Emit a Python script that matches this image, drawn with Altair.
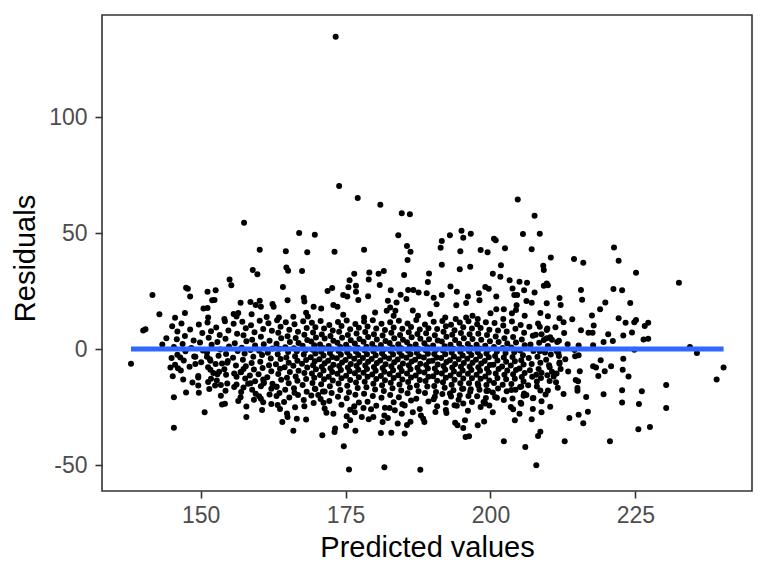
import altair as alt
import pandas as pd

# ---- values (x = predicted value, y = residual) ----
outlier_points = [[173.3, 134.6]]

upper_left_points = [
    [157.5, 54.4], [167.0, 50.0], [169.7, 49.3], [160.2, 42.8], [164.7, 42.2], [168.4, 41.7],
    [159.0, 34.1], [159.8, 32.2], [164.8, 35.2], [165.1, 33.8], [167.5, 33.6], [155.0, 30.0],
    [155.3, 27.5], [147.5, 26.4], [147.8, 26.0], [141.7, 23.3], [148.2, 22.7], [151.2, 24.7],
    [152.6, 25.3], [152.0, 21.0], [152.4, 21.1], [164.2, 26.7], [165.0, 21.0], [171.9, 25.0],
    [167.8, 22.1], [167.9, 20.5], [156.9, 20.0], [158.6, 20.3], [160.2, 20.8], [159.5, 19.0],
    [160.4, 18.2], [162.4, 19.4], [162.6, 18.2], [150.5, 17.5], [151.2, 17.7], [142.9, 15.0],
    [145.6, 13.5], [147.3, 15.5], [151.3, 13.6], [154.1, 12.9], [155.7, 15.1], [156.5, 15.5],
    [156.2, 14.0], [158.8, 15.0], [161.4, 13.8], [163.5, 13.6], [166.0, 13.9], [168.2, 15.6],
    [169.5, 18.2], [170.8, 17.5], [168.5, 14.0],
]

lower_left_points = [
    [140.1, 8.0], [140.5, 8.5], [138.0, -6.3], [144.1, 4.7], [143.4, 2.0], [146.0, 7.6],
    [145.0, -3.9], [146.5, -3.6], [144.8, -8.0], [146.1, -8.3], [149.1, -3.3], [149.1, -6.5],
    [147.0, -13.1], [149.6, -11.6], [149.6, -15.7], [149.7, -18.8], [147.5, -18.7], [145.4, -20.8],
    [145.4, -33.9], [150.7, -27.2], [153.7, -23.9], [154.2, -23.6], [157.9, -29.3], [156.9, -20.8],
    [157.0, -18.5], [151.7, -8.9], [152.2, -10.3], [151.3, -14.2], [152.9, -10.9], [152.5, -15.7],
    [153.5, -15.5], [154.4, -11.1], [153.7, -6.2], [154.6, -5.9], [151.7, -5.1], [151.1, -3.3],
    [155.8, -16.4], [156.2, -12.0], [156.9, -10.0], [157.4, -8.6], [158.2, -15.0], [158.6, -14.8],
    [159.5, -19.3], [160.4, -21.4], [160.8, -22.9], [160.1, -20.4], [160.8, -13.1], [160.9, -14.8],
    [162.2, -17.1], [163.1, -16.3], [163.1, -20.2], [164.4, -22.8], [163.7, -25.9], [165.0, -29.3],
    [164.1, -31.5], [166.6, -30.0], [168.2, -30.4], [167.9, -24.7], [166.0, -35.2], [171.0, -37.2],
    [166.2, -18.8], [170.3, -19.8], [171.4, -18.3], [171.7, -27.5], [171.2, -23.2], [169.7, -17.1],
]

upper_mid_points = [
    [173.9, 70.3], [177.1, 65.1], [181.0, 62.2], [184.7, 58.5], [186.1, 58.1], [204.7, 64.5],
    [207.6, 57.5], [173.1, 41.9], [178.2, 42.8], [184.1, 49.0], [185.6, 44.4], [186.2, 41.9],
    [185.7, 38.4], [193.0, 49.1], [195.0, 51.0], [195.3, 48.0], [196.6, 49.7], [191.6, 46.6],
    [191.4, 43.7], [194.8, 42.2], [198.3, 42.7], [199.5, 41.7], [200.6, 47.5], [200.9, 46.9],
    [202.5, 43.5], [205.6, 49.6], [207.1, 43.0], [191.6, 36.3], [194.7, 34.4], [196.5, 35.5],
    [201.8, 36.1], [200.4, 32.5], [201.7, 31.2], [203.3, 29.7], [205.0, 29.0], [206.3, 28.6],
    [185.1, 31.9], [189.4, 32.6], [189.2, 28.9], [176.5, 32.5], [179.1, 33.0], [180.7, 32.5],
    [181.6, 33.6], [179.0, 30.0], [175.7, 29.7], [180.9, 27.6], [176.8, 27.3], [172.7, 26.3],
    [175.5, 26.6], [174.6, 23.3], [175.3, 22.7], [176.8, 24.7], [177.2, 21.1], [178.9, 22.8],
    [182.8, 25.3], [184.5, 23.4], [185.8, 25.4], [186.7, 25.4], [187.6, 24.4], [189.0, 24.0],
    [190.2, 22.1], [190.7, 19.3], [191.6, 23.3], [193.1, 27.0], [194.2, 24.7], [194.1, 18.9],
    [196.1, 22.7], [195.8, 19.8], [198.0, 24.1], [198.1, 21.0], [199.1, 26.7], [199.7, 26.0],
    [201.0, 22.7], [203.8, 26.1], [204.1, 23.3], [204.6, 23.3], [204.5, 18.9], [205.8, 25.3],
    [206.2, 20.7], [207.1, 20.0], [204.4, 16.8], [203.7, 15.4], [202.3, 17.1], [201.0, 17.1],
    [200.0, 15.4], [185.5, 21.6], [183.8, 20.1], [182.3, 20.8], [182.7, 17.9], [183.6, 16.5],
    [183.3, 14.4], [182.1, 16.5], [180.1, 15.8], [178.2, 13.6], [174.6, 14.8], [172.9, 19.0],
    [173.6, 18.2], [186.6, 16.6], [187.5, 14.4], [189.6, 15.1], [192.2, 13.6], [194.0, 13.0],
    [195.8, 13.6], [196.9, 14.4], [197.8, 13.0], [202.2, 13.0], [205.9, 14.4],
]

upper_right_points = [
    [208.5, 49.7], [210.4, 39.5], [209.1, 35.9], [209.2, 34.1], [209.7, 28.3], [209.2, 27.3],
    [209.9, 27.5], [207.6, 24.4], [214.4, 38.8], [216.0, 37.2], [221.3, 43.8], [222.1, 38.1],
    [225.1, 32.9], [232.5, 28.6], [215.6, 25.4], [215.8, 21.3], [221.2, 25.9], [222.7, 25.3],
    [219.8, 20.1], [218.9, 17.1], [224.1, 19.8], [211.9, 22.0], [212.1, 19.0], [209.7, 19.7],
    [217.5, 14.5], [214.1, 12.8], [211.9, 13.3], [209.9, 14.1], [208.6, 15.5], [222.1, 13.3],
    [225.1, 12.5],
]

lower_right_points = [
    [240.2, -8.0], [239.0, -13.1], [235.6, -1.7], [234.4, 0.9], [230.3, -15.5], [230.3, -25.4],
    [227.5, -33.6], [225.5, -34.6], [226.1, -18.2], [225.6, -23.7], [222.7, -17.8], [222.7, -23.0],
    [219.5, -19.5], [220.6, -39.8], [212.8, -39.8], [207.9, -50.1], [208.2, -37.5], [208.6, -35.7],
    [208.8, -27.2], [213.6, -29.7], [216.0, -32.0], [215.2, -28.3], [216.8, -27.0], [216.5, -20.7],
    [215.0, -18.0], [215.0, -16.8], [211.6, -16.7], [209.9, -17.9], [208.6, -17.9], [214.7, -13.4],
    [215.1, -13.9], [215.4, -9.6], [218.6, -11.6], [219.7, -9.6], [220.8, -7.4], [222.8, -8.9],
    [223.8, -11.8], [222.9, -4.2], [219.0, -4.8], [217.7, -7.4], [218.2, -8.0], [212.1, -8.6],
    [211.9, -5.8], [211.8, -3.0], [211.7, -1.8], [214.6, -3.1], [215.2, -2.7], [214.5, -0.4],
    [210.2, -7.9], [208.8, -10.2], [207.9, -11.1], [208.0, -14.0], [210.6, -9.8], [210.9, -11.8],
    [211.4, -10.6], [209.4, -1.5], [208.5, -1.0], [224.8, -0.3], [217.7, 1.6], [219.5, 3.0],
    [221.1, 3.5], [220.3, 6.4], [222.9, 5.8], [224.4, 7.1], [226.4, 4.1], [227.2, 4.4],
    [226.6, 9.9], [227.2, 11.3], [224.8, 11.6], [223.3, 11.3], [217.8, 10.1], [215.6, 8.1],
    [216.9, 7.0], [217.6, 7.0], [212.6, 11.6], [207.8, 6.2], [209.7, 4.7], [210.6, 4.0],
    [211.5, 3.0], [209.2, 3.9], [208.5, 9.6], [209.8, 8.9], [215.2, 1.5],
]

lower_mid_points = [
    [175.6, -51.9], [181.7, -51.0], [187.9, -52.0], [174.7, -41.9], [202.3, -39.7], [206.0, -42.2],
    [195.7, -37.9], [196.3, -37.6], [173.1, -35.8], [173.2, -34.3], [176.7, -35.2], [181.1, -36.2],
    [182.9, -36.1], [185.2, -36.4], [188.6, -31.5], [188.0, -28.6], [186.2, -31.4], [185.6, -32.8],
    [184.0, -32.1], [182.3, -29.7], [181.4, -31.5], [181.7, -28.6], [179.8, -29.3], [179.0, -30.3],
    [177.8, -29.3], [175.8, -30.7], [175.2, -29.0], [176.6, -27.2], [178.1, -25.4], [179.4, -26.0],
    [176.5, -24.7], [193.9, -31.8], [194.3, -32.9], [195.3, -34.0], [195.6, -30.7], [197.8, -32.9],
    [198.9, -31.2], [200.4, -27.3], [204.2, -30.7], [207.1, -30.3], [205.0, -27.9], [203.5, -25.0],
    [203.9, -26.0], [205.2, -23.2], [205.7, -20.1], [206.2, -19.8], [205.3, -16.2], [203.6, -17.7],
    [207.4, -21.1], [207.3, -25.9], [194.5, -21.9], [194.2, -24.4], [196.1, -26.6], [192.3, -26.3],
    [192.4, -27.6], [190.5, -27.1], [190.4, -20.6], [193.0, -19.2], [198.8, -22.8], [199.1, -23.5],
    [201.1, -21.0], [200.4, -18.7], [199.3, -18.1], [196.5, -18.4], [197.9, -15.7], [195.3, -17.1],
    [188.4, -30.0], [186.6, -27.2], [184.7, -27.9], [183.5, -26.4], [185.2, -24.3], [182.6, -25.4],
    [175.1, -33.1],
]

core_points = [
    [145.1, 9.8], [145.9, 4.2], [145.4, 0.9], [146.0, -2.5], [145.6, -6.8], [145.2, -11.7],
    [146.7, 11.0], [147.3, 5.6], [146.9, 2.2], [147.4, -1.0], [147.1, -4.9], [146.6, -9.3],
    [148.2, 8.4], [148.8, 3.7], [148.4, 0.4], [148.9, -3.2], [148.1, -7.6], [148.6, -14.4],
    [149.7, 10.6], [150.3, 6.9], [149.9, 2.8], [150.4, -0.6], [150.1, -5.7], [149.6, -12.3],
    [151.2, 11.4], [151.8, 7.7], [151.4, 4.9], [151.9, 1.8], [151.1, -1.5], [151.6, -4.4], [151.3, -7.9], [151.8, -12.8], [151.5, -17.2],
    [152.7, 9.3], [153.3, 6.1], [152.9, 3.0], [153.4, -0.2], [153.1, -2.9], [152.6, -6.5], [153.2, -9.8], [152.8, -13.6], [153.5, -20.1],
    [154.2, 12.0], [154.8, 8.0], [154.3, 4.4], [154.9, 1.1], [154.4, -2.1], [154.7, -5.2], [154.1, -8.7], [154.6, -14.9], [154.3, -18.0],
    [155.7, 10.9], [156.3, 6.6], [155.9, 2.5], [156.4, -0.9], [155.6, -3.8], [156.1, -7.1], [155.8, -10.6], [156.2, -15.3], [156.5, -22.4],
    [157.2, 11.8], [157.8, 9.0], [157.4, 5.9], [157.9, 3.4], [157.1, 0.6], [157.6, -1.9], [157.3, -4.6], [157.8, -7.4], [157.0, -9.9], [157.7, -12.7], [157.4, -16.6], [157.9, -24.8],
    [158.7, 10.3], [159.3, 7.2], [158.9, 4.0], [159.4, 1.5], [158.6, -0.4], [159.1, -3.3], [158.8, -6.0], [159.2, -8.8], [158.5, -11.4], [159.4, -13.9], [158.9, -17.5], [159.2, -21.9],
    [160.2, 12.2], [160.8, 8.6], [160.4, 5.3], [160.9, 2.1], [160.1, -0.7], [160.6, -2.6], [160.3, -5.5], [160.7, -8.2], [160.0, -10.9], [160.9, -14.1], [160.4, -16.0], [160.6, -26.3],
    [161.7, 11.1], [162.3, 7.9], [161.9, 3.6], [162.4, 0.2], [161.6, -1.6], [162.1, -4.1], [161.8, -7.0], [162.2, -9.6], [161.5, -12.2], [162.4, -15.0], [161.9, -19.6], [162.2, -23.7],
    [163.2, 12.4], [163.8, 9.6], [163.4, 7.0], [163.9, 4.6], [163.1, 2.3], [163.6, 0.1], [163.3, -2.2], [163.8, -4.3], [163.0, -6.6], [163.7, -8.5], [163.4, -10.8], [163.9, -13.2], [163.1, -16.3], [163.6, -19.0], [163.3, -24.1],
    [164.7, 11.6], [165.3, 8.3], [165.0, 5.5], [165.4, 3.0], [164.6, 0.8], [165.1, -1.3], [164.8, -3.6], [165.2, -5.9], [164.5, -7.8], [165.4, -9.9], [164.9, -12.4], [165.2, -14.7], [164.6, -17.6], [165.3, -20.9], [164.9, -27.8],
    [166.2, 10.7], [166.8, 7.4], [166.4, 4.8], [166.9, 2.6], [166.1, 0.3], [166.6, -1.0], [166.3, -3.1], [166.7, -5.0], [166.0, -7.2], [166.9, -9.4], [166.4, -11.8], [166.7, -13.7], [166.1, -16.9], [166.8, -19.8], [166.3, -25.1],
    [167.7, 12.0], [168.3, 9.1], [167.9, 6.2], [168.4, 3.9], [167.6, 1.4], [168.1, -0.5], [167.8, -2.4], [168.2, -4.7], [167.5, -6.3], [168.4, -8.0], [167.9, -10.3], [168.2, -12.9], [167.6, -15.5], [168.3, -18.4], [167.8, -22.0],
    [169.2, 11.3], [169.8, 9.4], [169.4, 7.1], [169.9, 5.0], [169.1, 3.3], [169.6, 1.6], [169.3, -0.3], [169.8, -1.9], [169.0, -3.5], [169.7, -5.3], [169.4, -7.0], [169.9, -8.7], [169.2, -10.6], [169.6, -12.4], [169.3, -14.6], [169.8, -17.2], [169.1, -20.0], [169.5, -23.3],
    [170.7, 12.1], [171.3, 8.8], [170.9, 6.3], [171.4, 4.5], [170.6, 2.0], [171.1, 0.4], [170.8, -1.2], [171.2, -2.8], [170.5, -4.4], [171.4, -6.1], [170.9, -7.6], [171.2, -9.3], [170.6, -11.2], [171.3, -13.0], [170.8, -15.2], [171.1, -18.3], [170.7, -21.5], [171.4, -25.6],
    [172.2, 10.4], [172.8, 8.0], [172.4, 5.6], [172.9, 3.6], [172.1, 1.3], [172.6, -0.1], [172.3, -1.7], [172.7, -3.4], [172.0, -5.0], [172.9, -6.8], [172.4, -8.3], [172.7, -9.9], [172.1, -11.9], [172.8, -13.6], [172.3, -16.0], [172.6, -18.9], [172.2, -22.4], [172.9, -27.9],
    [173.7, 11.7], [174.3, 9.9], [173.9, 7.4], [174.4, 4.9], [173.6, 2.7], [174.1, 0.9], [173.8, -0.8], [174.2, -2.5], [173.5, -4.0], [174.4, -5.8], [173.9, -7.3], [174.2, -9.0], [173.6, -10.7], [174.3, -12.6], [173.8, -14.9], [174.1, -17.7], [173.7, -20.6], [174.3, -24.0],
    [175.2, 12.3], [175.8, 8.5], [175.4, 6.0], [175.9, 3.8], [175.1, 1.9], [175.6, 0.2], [175.3, -1.4], [175.7, -3.0], [175.0, -4.7], [175.9, -6.4], [175.4, -8.0], [175.7, -9.6], [175.1, -11.5], [175.8, -13.3], [175.3, -15.8], [175.6, -18.6], [175.2, -21.2], [175.8, -26.2],
    [176.7, 10.8], [177.3, 9.2], [176.9, 6.7], [177.4, 4.3], [176.6, 2.4], [177.1, 0.6], [176.8, -1.1], [177.2, -2.6], [176.5, -4.2], [177.4, -5.6], [176.9, -7.2], [177.2, -8.9], [176.6, -10.4], [177.3, -12.2], [176.8, -14.4], [177.1, -16.8], [176.7, -19.7], [177.3, -23.0],
    [178.2, 11.9], [178.8, 9.7], [178.4, 7.3], [178.9, 5.2], [178.1, 3.1], [178.6, 1.0], [178.3, -0.6], [178.7, -2.3], [178.0, -3.9], [178.9, -5.5], [178.4, -7.1], [178.7, -8.6], [178.1, -10.2], [178.8, -12.0], [178.3, -14.1], [178.6, -16.5], [178.2, -19.3], [178.8, -22.7],
    [179.7, 12.4], [180.3, 8.9], [179.9, 6.4], [180.4, 4.1], [179.6, 2.2], [180.1, 0.5], [179.8, -1.0], [180.2, -2.7], [179.5, -4.3], [180.4, -6.0], [179.9, -7.7], [180.2, -9.4], [179.6, -11.0], [180.3, -12.9], [179.8, -15.0], [180.1, -17.4], [179.7, -20.3], [180.3, -24.5],
    [181.2, 10.9], [181.8, 8.2], [181.4, 5.8], [181.9, 3.5], [181.1, 1.7], [181.6, -0.2], [181.3, -1.8], [181.7, -3.3], [181.0, -4.9], [181.9, -6.6], [181.4, -8.2], [181.7, -9.8], [181.1, -11.6], [181.8, -13.5], [181.3, -15.6], [181.6, -18.1], [181.2, -21.0], [181.8, -25.3],
    [182.7, 11.5], [183.3, 9.3], [182.9, 7.0], [183.4, 4.7], [182.6, 2.6], [183.1, 0.7], [182.8, -0.9], [183.2, -2.4], [182.5, -4.1], [183.4, -5.7], [182.9, -7.4], [183.2, -9.1], [182.6, -10.8], [183.3, -12.5], [182.8, -14.5], [183.1, -16.9], [182.7, -19.8], [183.3, -22.9],
    [184.2, 12.2], [184.8, 8.7], [184.4, 6.1], [184.9, 4.0], [184.1, 2.1], [184.6, 0.3], [184.3, -1.3], [184.7, -2.9], [184.0, -4.5], [184.9, -6.2], [184.4, -7.9], [184.7, -9.5], [184.1, -11.3], [184.8, -13.1], [184.3, -15.3], [184.6, -17.9], [184.2, -20.8], [184.8, -23.8],
    [185.7, 11.0], [186.3, 9.5], [185.9, 7.2], [186.4, 5.1], [185.6, 2.9], [186.1, 1.1], [185.8, -0.7], [186.2, -2.2], [185.5, -3.8], [186.4, -5.4], [185.9, -7.0], [186.2, -8.7], [185.6, -10.5], [186.3, -12.3], [185.8, -14.2], [186.1, -16.6], [185.7, -19.1], [186.3, -22.2],
    [187.2, 12.5], [187.8, 8.4], [187.4, 6.5], [187.9, 4.4], [187.1, 2.0], [187.6, 0.0], [187.3, -1.6], [187.7, -3.1], [187.0, -4.6], [187.9, -6.3], [187.4, -8.1], [187.7, -9.7], [187.1, -11.4], [187.8, -13.4], [187.3, -15.7], [187.6, -18.2], [187.2, -21.4], [187.8, -25.9],
    [188.7, 10.6], [189.3, 9.0], [188.9, 6.8], [189.4, 4.2], [188.6, 2.5], [189.1, 0.8], [188.8, -0.5], [189.2, -2.0], [188.5, -3.7], [189.4, -5.3], [188.9, -6.9], [189.2, -8.4], [188.6, -10.1], [189.3, -11.9], [188.8, -13.8], [189.1, -16.2], [188.7, -19.0], [189.3, -22.6],
    [190.2, 11.8], [190.8, 8.6], [190.4, 5.9], [190.9, 3.7], [190.1, 1.5], [190.6, -0.4], [190.3, -2.1], [190.7, -3.6], [190.0, -5.1], [190.9, -6.7], [190.4, -8.4], [190.7, -10.0], [190.1, -11.7], [190.8, -13.7], [190.3, -15.9], [190.6, -18.5], [190.2, -21.6], [190.8, -24.7],
    [191.7, 12.1], [192.3, 9.8], [191.9, 7.5], [192.4, 5.3], [191.6, 3.2], [192.1, 1.2], [191.8, -0.6], [192.2, -2.3], [191.5, -3.9], [192.4, -5.6], [191.9, -7.3], [192.2, -8.9], [191.6, -10.6], [192.3, -12.4], [191.8, -14.3], [192.1, -16.7], [191.7, -19.4], [192.3, -23.2],
    [193.2, 10.5], [193.8, 8.1], [193.4, 6.2], [193.9, 3.9], [193.1, 1.8], [193.6, 0.1], [193.3, -1.5], [193.7, -3.2], [193.0, -4.8], [193.9, -6.5], [193.4, -8.0], [193.7, -9.7], [193.1, -11.4], [193.8, -13.2], [193.3, -15.4], [193.6, -17.8], [193.2, -20.5], [193.8, -24.2],
    [194.7, 11.4], [195.3, 9.4], [194.9, 6.9], [195.4, 4.6], [194.6, 2.3], [195.1, 0.4], [194.8, -1.2], [195.2, -2.8], [194.5, -4.4], [195.4, -6.0], [194.9, -7.6], [195.2, -9.2], [194.6, -10.9], [195.3, -12.7], [194.8, -14.7], [195.1, -17.1], [194.7, -19.9], [195.3, -23.5],
    [196.2, 12.0], [196.8, 8.8], [196.4, 6.4], [196.9, 4.3], [196.1, 2.2], [196.6, 0.6], [196.3, -1.0], [196.7, -2.6], [196.0, -4.2], [196.9, -5.9], [196.4, -7.5], [196.7, -9.0], [196.1, -10.7], [196.8, -12.6], [196.3, -14.8], [196.6, -17.3], [196.2, -20.2], [196.8, -22.8],
    [197.7, 10.7], [198.3, 9.1], [197.9, 6.6], [198.4, 4.0], [197.6, 1.9], [198.1, 0.2], [197.8, -1.4], [198.2, -3.0], [197.5, -4.6], [198.4, -6.2], [197.9, -7.8], [198.2, -9.4], [197.6, -11.1], [198.3, -12.8], [197.8, -14.9], [198.1, -17.5], [197.7, -20.4], [198.3, -25.0],
    [199.2, 11.6], [199.8, 8.3], [199.4, 6.0], [199.9, 3.4], [199.1, 1.4], [199.6, -0.3], [199.3, -1.9], [199.7, -3.5], [199.0, -5.2], [199.9, -6.9], [199.4, -8.5], [199.7, -10.1], [199.1, -11.8], [199.8, -13.6], [199.3, -15.5], [199.6, -18.0], [199.2, -21.1], [199.8, -24.3],
    [200.7, 11.2], [201.3, 8.0], [200.9, 5.4], [201.4, 3.0], [200.6, 0.9], [201.1, -1.1], [200.8, -3.0], [201.2, -4.9], [200.5, -6.8], [201.4, -8.6], [200.9, -10.5], [201.2, -12.5], [200.6, -14.6], [201.3, -17.0], [200.8, -20.7],
    [202.2, 10.1], [202.8, 7.6], [202.4, 4.7], [202.9, 2.4], [202.1, 0.5], [202.6, -1.7], [202.3, -3.7], [202.7, -5.5], [202.0, -7.5], [202.9, -9.3], [202.4, -11.1], [202.7, -13.0], [202.1, -15.4], [202.8, -18.2], [202.3, -22.0],
    [203.7, 11.9], [204.3, 8.7], [203.9, 5.2], [204.4, 2.8], [203.6, 0.7], [204.1, -1.4], [203.8, -3.4], [204.2, -5.3], [203.5, -7.1], [204.4, -9.0], [203.9, -10.9], [204.2, -12.8], [203.6, -15.1], [204.3, -17.6], [203.8, -21.3],
    [205.2, 10.4], [205.8, 7.0], [205.4, 4.1], [205.9, 1.6], [205.1, -0.6], [205.6, -2.7], [205.3, -4.8], [205.7, -6.7], [205.0, -8.4], [205.9, -10.3], [205.4, -12.1], [205.7, -14.0], [205.1, -16.4], [205.8, -19.2], [205.3, -23.6],
    [206.7, 9.6], [207.3, 5.7], [206.9, 2.0], [207.4, -0.9], [206.6, -3.9], [207.1, -6.4], [206.8, -9.1], [207.2, -12.0], [206.5, -15.6], [207.3, -21.2],
    [208.2, 11.0], [208.8, 6.4], [208.4, 2.7], [208.9, -0.4], [208.1, -3.3], [208.6, -5.9], [208.3, -8.6], [208.7, -12.5], [208.0, -16.1], [208.8, -22.5],
    [209.7, 8.2], [210.3, 5.1], [209.9, 1.3], [210.4, -2.4], [209.6, -4.6], [210.1, -7.0], [209.8, -11.3], [210.2, -13.8], [209.5, -19.6], [210.3, -24.9],
    [211.2, 9.4], [211.8, 3.6], [211.4, -0.8], [211.9, -6.3], [211.3, -14.3],
    [212.7, 6.9], [213.3, 2.1], [212.9, -4.4], [213.4, -9.7], [212.6, -19.4],
]

# fitted line (lm of residuals on predicted values), endpoints at the data range
line_pred = [138.0, 240.2]
line_resid = [0.0, 0.0]

x_ticks = [150, 175, 200, 225]
y_ticks = [-50, 0, 50, 100]

all_points = (outlier_points + upper_left_points + lower_left_points + upper_mid_points
              + upper_right_points + lower_right_points + lower_mid_points + core_points)
points_df = pd.DataFrame(all_points, columns=["pred", "resid"])
line_df = pd.DataFrame({"pred": line_pred, "resid": line_resid})

x_scale = alt.Scale(domain=[133.0, 245.1], nice=False, zero=False)
y_scale = alt.Scale(domain=[-61.2, 144.0], nice=False, zero=False)

FONT = "Liberation Sans"

x_axis = alt.Axis(
    title="Predicted values", values=x_ticks, grid=False, domain=False,
    tickColor="#333333", tickWidth=1.6, tickSize=7,
    labelFont=FONT, labelFontSize=23, labelColor="#4D4D4D", labelPadding=6,
    titleFont=FONT, titleFontSize=29, titleColor="#000000", titleFontWeight="normal",
    titlePadding=6,
)
y_axis = alt.Axis(
    title="Residuals", values=y_ticks, grid=False, domain=False,
    tickColor="#333333", tickWidth=1.6, tickSize=7,
    labelFont=FONT, labelFontSize=23, labelColor="#4D4D4D", labelPadding=8,
    labelExpr="replace(datum.label, '\u2212', '-')",
    titleFont=FONT, titleFontSize=29, titleColor="#000000", titleFontWeight="normal",
    titlePadding=8, titleY=243,
)

points = alt.Chart(points_df).mark_circle(size=36, color="black", opacity=1).encode(
    x=alt.X("pred:Q", scale=x_scale, axis=x_axis),
    y=alt.Y("resid:Q", scale=y_scale, axis=y_axis),
)

fit_line = alt.Chart(line_df).mark_line(color="#3366FF", strokeWidth=5).encode(
    x=alt.X("pred:Q", scale=x_scale),
    y=alt.Y("resid:Q", scale=y_scale),
)

chart = (
    alt.layer(points, fit_line)
    .properties(
        width=650, height=476,
        background="white",
        autosize=alt.AutoSizeParams(type="none"),
        padding={"left": 94, "top": 7, "right": 8, "bottom": 82},
    )
    .configure_view(stroke="#333333", strokeWidth=1.6)
)

chart.save("out.html", embed_options={"renderer": "svg", "actions": False})
